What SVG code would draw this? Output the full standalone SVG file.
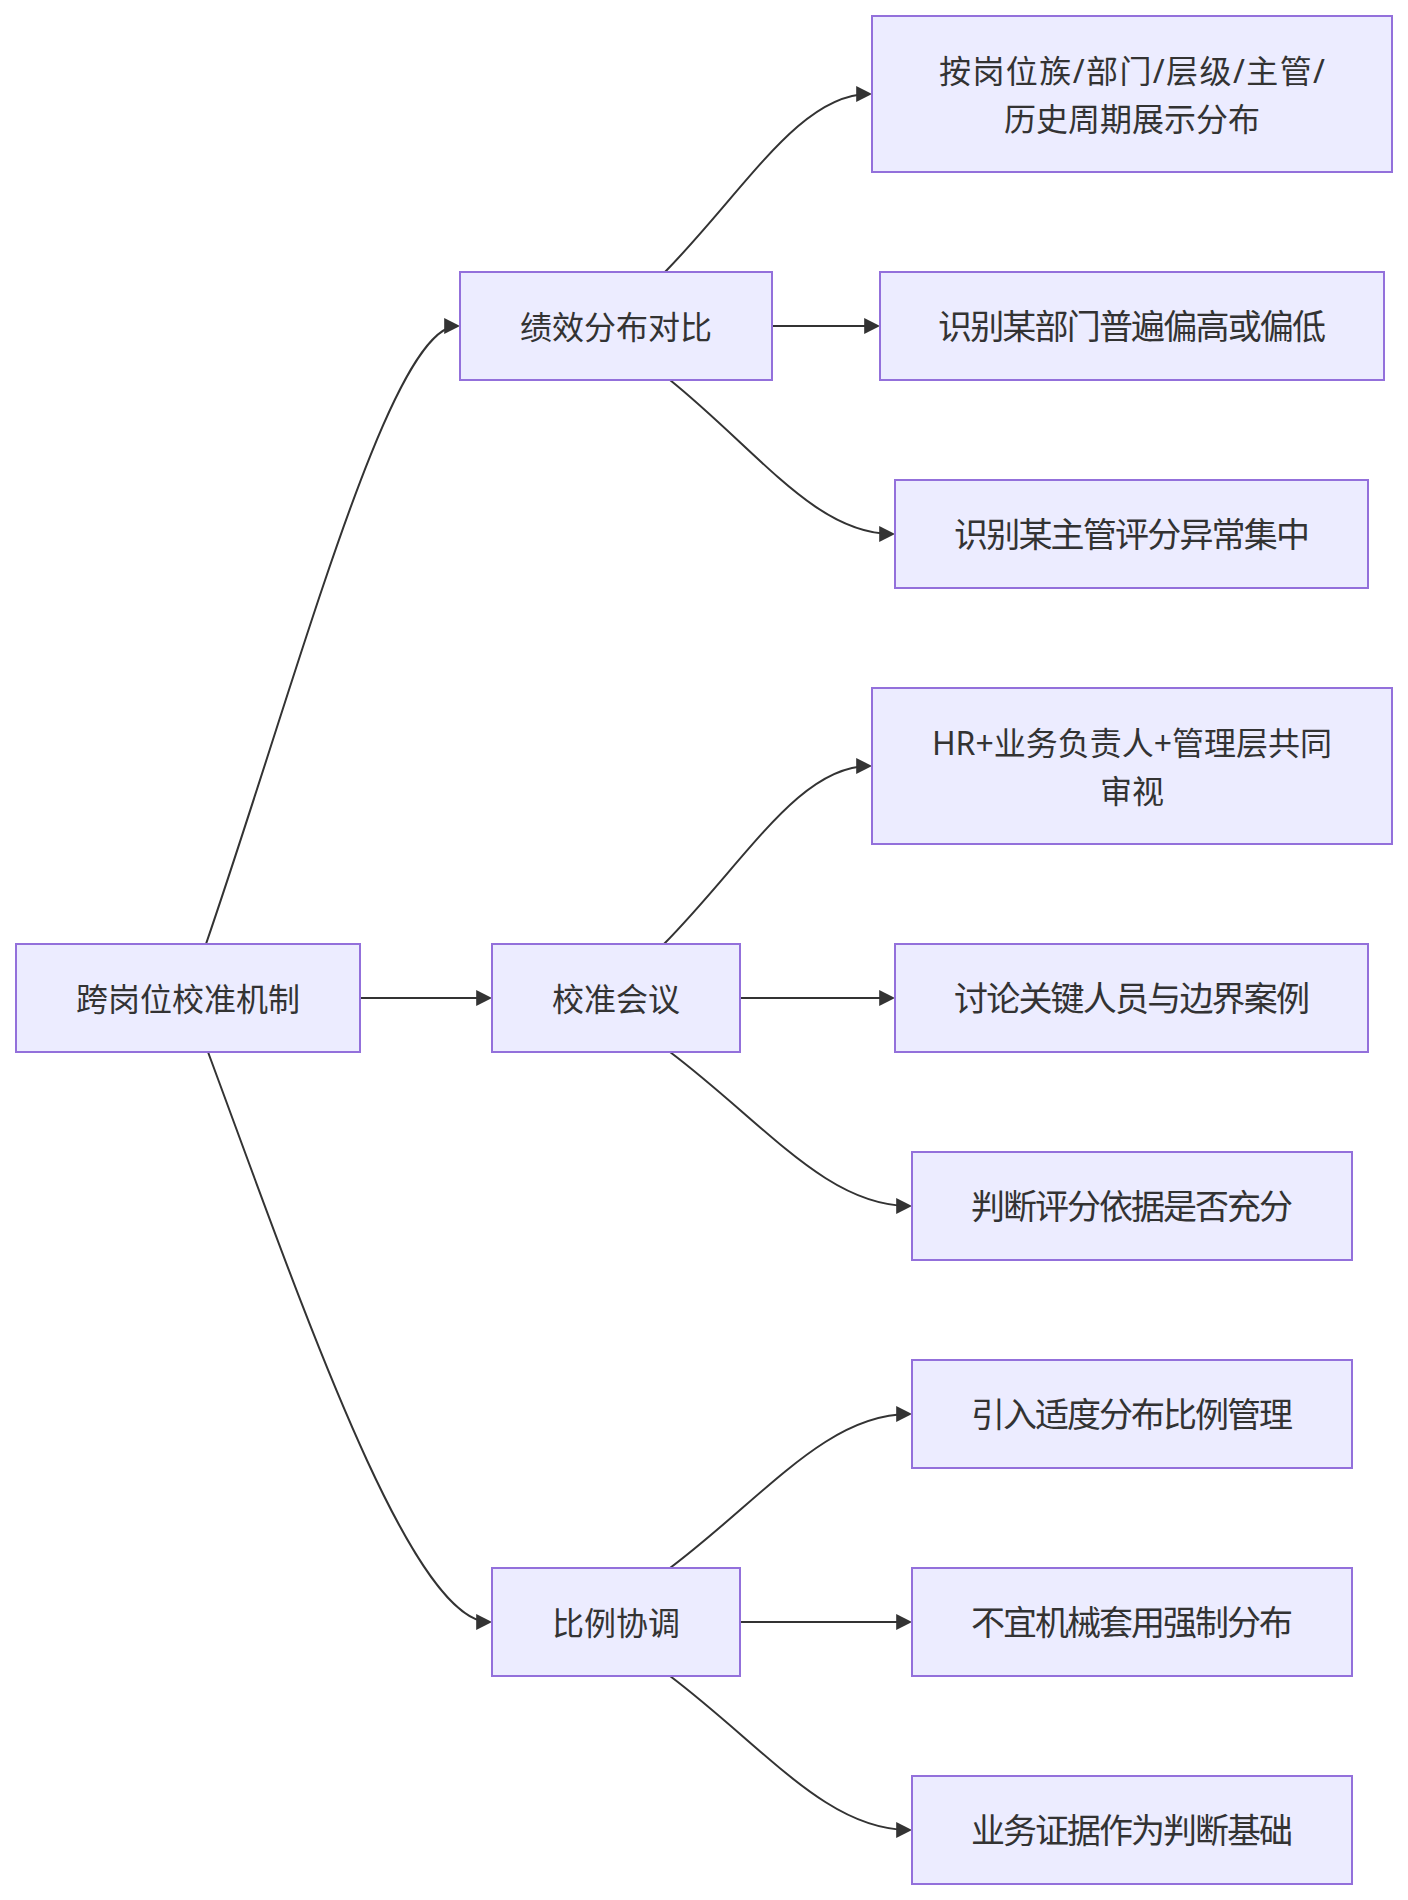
<svg xmlns="http://www.w3.org/2000/svg" width="1408" height="1900" viewBox="0 0 1408 1900">
<style>
  .node rect { fill: #ECECFF; stroke: #9370DB; stroke-width: 2; }
  .node text { fill: #333333; font-family: "Noto Sans", "Noto Sans CJK SC", sans-serif; font-size: 32px; text-anchor: middle; dominant-baseline: central; }
  .node text.leaf { font-size: 34px; }
  .edges path { fill: none; stroke: #333333; stroke-width: 2; marker-end: url(#arrow); }
</style>
<defs>
  <marker id="arrow" viewBox="0 0 10 10" refX="8" refY="5" markerWidth="16" markerHeight="16" markerUnits="userSpaceOnUse" orient="auto">
    <path d="M0,0 L10,5 L0,10 z" fill="#333333"/>
  </marker>
</defs>
<rect x="0" y="0" width="1408" height="1900" fill="#ffffff"/>
<g id="edges" class="edges">
  <path d="M206,944 C300,670 390,326 457,326"/>
  <path d="M360,998 L489,998"/>
  <path d="M208,1052 C300,1300 410,1622 489,1622"/>
  <path d="M665,272 C745,190 800,94 869,94"/>
  <path d="M772,326 L877,326"/>
  <path d="M670,380 C758,451 816,534 892,534"/>
  <path d="M664,944 C745,862 799,766 869,766"/>
  <path d="M740,998 L892,998"/>
  <path d="M670,1052 C764,1123 827,1206 909,1206"/>
  <path d="M670,1568 C764,1497 827,1414 909,1414"/>
  <path d="M740,1622 L909,1622"/>
  <path d="M670,1676 C764,1747 827,1830 909,1830"/>
</g>
<g id="root" class="node">
  <rect x="16" y="944" width="344" height="108"/>
  <text x="188" y="998">跨岗位校准机制</text>
</g>
<g id="n_compare" class="node">
  <rect x="460" y="272" width="312" height="108"/>
  <text x="616" y="326">绩效分布对比</text>
</g>
<g id="n_meeting" class="node">
  <rect x="492" y="944" width="248" height="108"/>
  <text x="616" y="998">校准会议</text>
</g>
<g id="n_ratio" class="node">
  <rect x="492" y="1568" width="248" height="108"/>
  <text x="616" y="1622">比例协调</text>
</g>
<g id="n_show" class="node">
  <rect x="872" y="16" width="520" height="156"/>
  <text x="1132" y="70" textLength="386" lengthAdjust="spacing">按岗位族/部门/层级/主管/</text>
  <text x="1132" y="118">历史周期展示分布</text>
</g>
<g id="n_dept" class="node">
  <rect x="880" y="272" width="504" height="108"/>
  <text class="leaf" x="1132" y="326" textLength="388" lengthAdjust="spacing">识别某部门普遍偏高或偏低</text>
</g>
<g id="n_mgr" class="node">
  <rect x="895" y="480" width="473" height="108"/>
  <text class="leaf" x="1132" y="534" textLength="356" lengthAdjust="spacing">识别某主管评分异常集中</text>
</g>
<g id="n_hr" class="node">
  <rect x="872" y="688" width="520" height="156"/>
  <text x="1132" y="742">HR+业务负责人+管理层共同</text>
  <text x="1132" y="790">审视</text>
</g>
<g id="n_discuss" class="node">
  <rect x="895" y="944" width="473" height="108"/>
  <text class="leaf" x="1132" y="998" textLength="356" lengthAdjust="spacing">讨论关键人员与边界案例</text>
</g>
<g id="n_judge" class="node">
  <rect x="912" y="1152" width="440" height="108"/>
  <text class="leaf" x="1132" y="1206" textLength="322" lengthAdjust="spacing">判断评分依据是否充分</text>
</g>
<g id="n_intro" class="node">
  <rect x="912" y="1360" width="440" height="108"/>
  <text class="leaf" x="1132" y="1414" textLength="322" lengthAdjust="spacing">引入适度分布比例管理</text>
</g>
<g id="n_force" class="node">
  <rect x="912" y="1568" width="440" height="108"/>
  <text class="leaf" x="1132" y="1622" textLength="322" lengthAdjust="spacing">不宜机械套用强制分布</text>
</g>
<g id="n_evidence" class="node">
  <rect x="912" y="1776" width="440" height="108"/>
  <text class="leaf" x="1132" y="1830" textLength="322" lengthAdjust="spacing">业务证据作为判断基础</text>
</g>
</svg>
